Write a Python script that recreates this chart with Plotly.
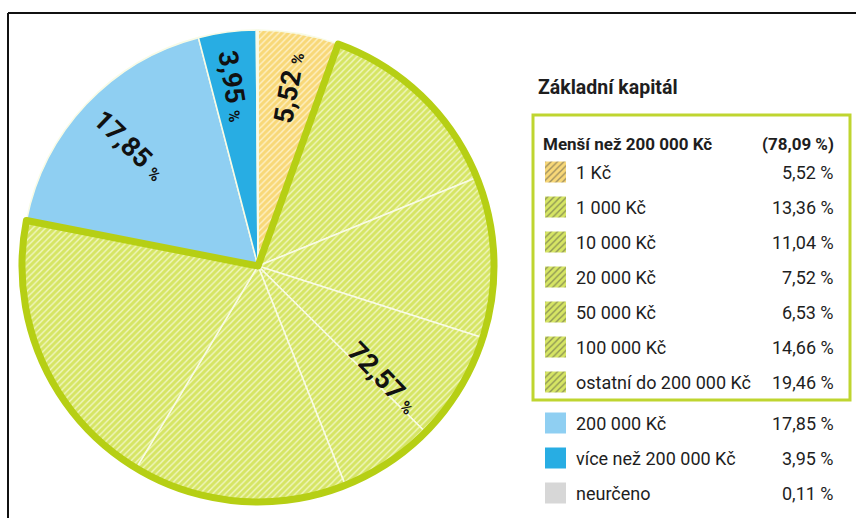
import math
import plotly.graph_objects as go

# ---------------- data ----------------
chart_title = "Základní kapitál"
group_title = "Menší než 200 000 Kč"
group_total = 78.09
labels = ["1 Kč", "1 000 Kč", "10 000 Kč", "20 000 Kč", "50 000 Kč",
          "100 000 Kč", "ostatní do 200 000 Kč", "200 000 Kč",
          "více než 200 000 Kč", "neurčeno"]
values = [5.52, 13.36, 11.04, 7.52, 6.53, 14.66, 19.46, 17.85, 3.95, 0.11]
in_group = [True, True, True, True, True, True, True, False, False, False]
# outline group (slices from 1 000 Kč to ostatní)
outline_labels = ["1 Kč", "1 000 – 200 000 Kč", "200 000 Kč", "více než 200 000 Kč", "neurčeno"]
outline_values = [5.52, 72.57, 17.85, 3.95, 0.11]

# ---------------- style ----------------
W, H = 856, 518
FONT = "Liberation Sans Narrow, Roboto, sans-serif"
TXT = "#1e1e1e"
GREEN_BG, GREEN_FG = "#d6e564", "#f1f7c4"
YEL_BG, YEL_FG = "#f8d878", "#fef1c8"
bg = [YEL_BG] + [GREEN_BG] * 6 + ["#8fcff2", "#28ade3", "#d7d7d7"]
fg = [YEL_FG] + [GREEN_FG] * 6 + ["#8fcff2", "#28ade3", "#d7d7d7"]
pat = ["/"] * 7 + [""] * 3
OUTLINE = "#b6cf14"

cx, cy, R = 258, 266, 236  # pie centre / radius in pixels


def fmt(v):
    return f"{v:.2f}".replace(".", ",") + " %"


fig = go.Figure()

pie_domain = dict(x=[(cx - R) / W, (cx + R) / W], y=[1 - (cy + R) / H, 1 - (cy - R) / H])

fig.add_trace(go.Pie(
    labels=labels, values=values, sort=False, direction="clockwise", rotation=0,
    textinfo="none", hoverinfo="label+percent", showlegend=False,
    marker=dict(colors=bg,
                line=dict(color="#f8fbe6", width=1.6),
                pattern=dict(shape=pat, fgcolor=fg, bgcolor=bg, size=4.5, solidity=0.3)),
    domain=pie_domain,
))

# thick green outline around the 72,57 % group
fig.add_trace(go.Pie(
    labels=outline_labels, values=outline_values, sort=False, direction="clockwise",
    rotation=0, textinfo="none", hoverinfo="skip", showlegend=False,
    marker=dict(colors=["rgba(0,0,0,0)"] * 5,
                line=dict(color=[OUTLINE] * 5, width=[0, 7, 0, 0, 0])),
    domain=pie_domain,
))

# ---------------- pie labels ----------------
total = sum(values)
cum = [sum(values[:i]) for i in range(len(values))]


def mid_angle(i):
    return (cum[i] + values[i] / 2) / total * 360


def pos(angle, rf):
    a = math.radians(angle)
    return cx + rf * R * math.sin(a), cy - rf * R * math.cos(a)


def big(v):
    return f"<b>{v:.2f}".replace(".", ",") + " <span style='font-size:16px'>%</span></b>"


pie_labels = [
    (big(values[0]), mid_angle(0), 0.77, -80),
    (big(values[8]), mid_angle(8) - 0.5, 0.77, 81),
    (big(values[7]), mid_angle(7), 0.745, 44),
    (big(outline_values[1]), 132, 0.71, 46),
]
annotations = []
for txt, ang, rf, ta in pie_labels:
    x, y = pos(ang, rf)
    annotations.append(dict(x=x, y=y, xref="x", yref="y", text=txt, showarrow=False,
                            textangle=ta, font=dict(family=FONT, size=27, color="#111")))

# ---------------- legend ----------------
row0, step, gap = 172, 35, 6
row_y = [row0 + step * i + (gap if not g else 0) for i, g in enumerate(in_group)]

fig.add_trace(go.Bar(
    y=row_y, x=[21] * len(labels), base=545, orientation="h", width=21,
    marker=dict(color=bg, line=dict(width=0),
                pattern=dict(shape=pat, fgcolor=fg, bgcolor=bg, size=4.5, solidity=0.3)),
    hoverinfo="skip", showlegend=False, xaxis="x", yaxis="y",
))

annotations.append(dict(x=536, y=87, xref="x", yref="y", text=f"<b>{chart_title}</b>",
                        showarrow=False, xanchor="left", yanchor="middle",
                        font=dict(family=FONT, size=19.5, color=TXT)))
annotations.append(dict(x=541, y=row0 - 28, xref="x", yref="y", text=f"<b>{group_title}</b>",
                        showarrow=False, xanchor="left", yanchor="middle",
                        font=dict(family=FONT, size=17, color=TXT)))
annotations.append(dict(x=836, y=row0 - 28, xref="x", yref="y",
                        text="<b>(" + fmt(group_total) + ")</b>",
                        showarrow=False, xanchor="right", yanchor="middle",
                        font=dict(family=FONT, size=17, color=TXT)))
for lab, v, y in zip(labels, values, row_y):
    annotations.append(dict(x=574, y=y, xref="x", yref="y", text=lab, showarrow=False,
                            xanchor="left", yanchor="middle",
                            font=dict(family=FONT, size=18, color=TXT)))
    annotations.append(dict(x=836, y=y, xref="x", yref="y", text=fmt(v), showarrow=False,
                            xanchor="right", yanchor="middle",
                            font=dict(family=FONT, size=18, color=TXT)))

shapes = [
    dict(type="rect", xref="x", yref="y", x0=533, x1=850, y0=115, y1=400,
         line=dict(color="#bfd530", width=3), fillcolor="rgba(0,0,0,0)", layer="below"),
    dict(type="line", xref="x", yref="y", x0=8, x1=W, y0=13, y1=13,
         line=dict(color="#111", width=2)),
    dict(type="line", xref="x", yref="y", x0=8, x1=8, y0=13, y1=H,
         line=dict(color="#111", width=2)),
]

fig.update_layout(
    width=W, height=H, margin=dict(l=0, r=0, t=0, b=0),
    paper_bgcolor="white", plot_bgcolor="rgba(0,0,0,0)",
    xaxis=dict(range=[0, W], domain=[0, 1], visible=False, fixedrange=True),
    yaxis=dict(range=[H, 0], domain=[0, 1], visible=False, fixedrange=True),
    annotations=annotations, shapes=shapes, showlegend=False,
)

fig.write_html("out.html", config={"displayModeBar": False},
               post_script="document.body.style.margin='0px';")
